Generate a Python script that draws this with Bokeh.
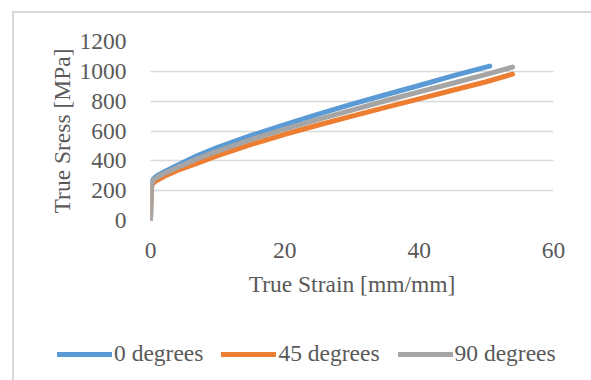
from bokeh.plotting import figure
from bokeh.layouts import column, row
from bokeh.models import Range1d, Legend, LegendItem, SingleIntervalTicker
from bokeh.embed import file_html
from bokeh.resources import INLINE

# Data
strain_0 = [0, 0.05, 0.15, 0.3, 0.6, 1, 2, 4, 7, 10, 15, 20, 25, 30, 35, 40, 45, 50.5]
stress_0 = [0, 120, 240, 270, 285, 300, 325, 370, 435, 490, 570, 643, 713, 780, 843, 905, 970, 1035]

strain_45 = [0, 0.05, 0.15, 0.3, 0.6, 1, 2, 4, 7, 10, 15, 20, 25, 30, 35, 40, 45, 50, 53.9]
stress_45 = [0, 110, 220, 245, 258, 270, 295, 335, 385, 435, 510, 578, 640, 700, 758, 815, 873, 930, 981]

strain_90 = [0, 0.05, 0.15, 0.3, 0.6, 1, 2, 4, 7, 10, 15, 20, 25, 30, 35, 40, 45, 50, 53.9]
stress_90 = [0, 120, 235, 262, 277, 290, 315, 355, 415, 465, 543, 612, 678, 740, 803, 862, 920, 980, 1028]

series_labels = ["0 degrees", "45 degrees", "90 degrees"]
colors = ["#5B9BD5", "#ED7D31", "#A5A5A5"]

FONT = "Liberation Serif"
TXT = "#595959"
FS = "23.5px"

p = figure(width=577, height=317, frame_width=403, frame_height=179,
           min_border_left=136, min_border_top=28, min_border_right=38, min_border_bottom=110,
           output_backend="svg", toolbar_location=None,
           x_range=Range1d(0, 60), y_range=Range1d(0, 1200))

p.outline_line_color = None
p.xgrid.grid_line_color = None
p.ygrid.grid_line_color = "#d9d9d9"
p.ygrid.grid_line_width = 1.3

p.xaxis.ticker = SingleIntervalTicker(interval=20)
p.yaxis.ticker = SingleIntervalTicker(interval=200)

for ax in (p.xaxis[0], p.yaxis[0]):
    ax.axis_line_color = None
    ax.major_tick_line_color = None
    ax.minor_tick_line_color = None
    ax.major_label_text_font = FONT
    ax.major_label_text_color = TXT
    ax.major_label_text_font_size = FS
    ax.axis_label_text_font = FONT
    ax.axis_label_text_color = TXT
    ax.axis_label_text_font_size = FS
    ax.axis_label_text_font_style = "normal"

p.xaxis.axis_label = "True Strain [mm/mm]"
p.yaxis.axis_label = "True Sress [MPa]"
p.yaxis.major_label_standoff = 18
p.xaxis.major_label_standoff = 16
p.yaxis.axis_label_standoff = 2
p.xaxis.axis_label_standoff = 10

line_kw = dict(line_width=5, line_cap="round", line_join="round")
p.line(strain_0, stress_0, line_color=colors[0], **line_kw)
p.line(strain_45, stress_45, line_color=colors[1], **line_kw)
p.line(strain_90, stress_90, line_color=colors[2], **line_kw)

# Legend strip below the chart (its own series lie outside its view, only the legend shows)
pl = figure(width=577, height=50, frame_width=577, frame_height=50, min_border=0,
            output_backend="svg", toolbar_location=None,
            x_axis_location=None, y_axis_location=None,
            x_range=Range1d(-20, -10), y_range=Range1d(-20, -10))
pl.grid.visible = False
pl.outline_line_color = None
l0 = pl.line(strain_0, stress_0, line_color=colors[0], **line_kw)
l1 = pl.line(strain_45, stress_45, line_color=colors[1], **line_kw)
l2 = pl.line(strain_90, stress_90, line_color=colors[2], **line_kw)

legend = Legend(items=[LegendItem(label=series_labels[0], renderers=[l0]),
                       LegendItem(label=series_labels[1], renderers=[l1]),
                       LegendItem(label=series_labels[2], renderers=[l2])],
                location=(43, 13), orientation="horizontal",
                label_text_font=FONT, label_text_color=TXT, label_text_font_size=FS,
                glyph_width=55, glyph_height=20, label_standoff=2, spacing=18,
                padding=0, margin=0, border_line_color=None, background_fill_alpha=0)
pl.add_layout(legend, "center")

layout = column(p, row(pl), spacing=0, margin=(11, 0, 0, 12),
                styles={"border-left": "2px solid #d9d9d9", "border-top": "2px solid #d9d9d9"})

open("out.html", "w").write(file_html(layout, INLINE))
